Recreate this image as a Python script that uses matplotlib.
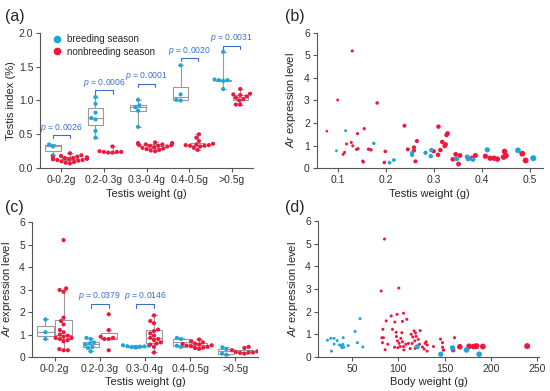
import numpy as np
import pandas as pd
import matplotlib
matplotlib.use('Agg')
import matplotlib.pyplot as plt
import seaborn as sns
from matplotlib.lines import Line2D

# ---- data ----
cats = ['0-0.2g', '0.2-0.3g', '0.3-0.4g', '0.4-0.5g', '>0.5g']
seasons = ['breeding season', 'nonbreeding season']

# (a) testis index (%)
a_breed = [
    [0.19, 0.32, 0.35],
    [0.45, 0.55, 0.72, 0.74, 0.82, 0.95, 1.05],
    [0.61, 0.85, 0.90, 0.93, 1.01],
    [1.00, 1.01, 1.09, 1.52],
    [1.17, 1.29, 1.30, 1.30, 1.31, 1.72],
]
a_non = [
    [0.22, 0.19, 0.18, 0.17, 0.16, 0.16, 0.15, 0.15, 0.14, 0.14, 0.13, 0.13,
     0.12, 0.12, 0.11, 0.10, 0.09, 0.08, 0.07, 0.14],
    [0.32, 0.25, 0.24, 0.24, 0.23, 0.23, 0.24],
    [0.38, 0.37, 0.37, 0.36, 0.35, 0.35, 0.34, 0.33, 0.33, 0.32, 0.31, 0.30,
     0.29, 0.28, 0.27, 0.26, 0.25, 0.34, 0.36],
    [0.50, 0.45, 0.40, 0.36, 0.35, 0.34, 0.34, 0.33, 0.33, 0.32, 0.30, 0.27],
    [1.17, 1.10, 1.09, 1.08, 1.06, 1.04, 1.02, 1.00, 0.94, 0.94],
]
a_p = ['0.0026', '0.0006', '0.0001', '0.0020', '0.0031']

# (c) Ar expression by testis weight class
c_breed = [
    [0.80, 1.10, 1.67],
    [0.85, 0.80, 0.65, 0.60, 0.55, 0.45, 0.40, 0.25],
    [0.42, 0.44, 0.46, 0.47, 0.48, 0.50, 0.52],
    [0.45, 0.50, 0.80, 0.85],
    [0.10, 0.15, 0.35, 0.43],
]
c_non = [
    [5.20, 3.05, 2.98, 2.90, 1.75, 1.60, 1.45, 1.20, 1.10, 1.00, 0.95, 0.90,
     0.85, 0.85, 0.80, 0.75, 0.70, 0.35, 0.30, 0.30],
    [0.30, 0.80, 0.80, 0.85, 0.90, 1.20, 1.90],
    [1.85, 1.60, 1.50, 1.22, 1.15, 1.05, 0.95, 0.85, 0.80, 0.75, 0.65, 0.60,
     0.55, 0.45, 0.20],
    [0.78, 0.70, 0.65, 0.60, 0.58, 0.55, 0.52, 0.50, 0.48, 0.45, 0.42, 0.40, 0.36],
    [0.45, 0.40, 0.30, 0.25, 0.22, 0.20, 0.20, 0.18, 0.15],
]
c_p = {1: '0.0379', 2: '0.0146'}

# (b) testis weight vs Ar
b_breed_w = [0.096, 0.115, 0.174, 0.207, 0.216, 0.254, 0.254, 0.282, 0.293, 0.294,
             0.347, 0.369, 0.371, 0.381, 0.411, 0.475, 0.507]
b_breed_ar = [0.77, 1.66, 1.10, 0.24, 0.36, 0.68, 0.58, 0.68, 0.53, 0.80,
              0.41, 0.50, 0.41, 0.39, 0.81, 0.79, 0.44]
b_non_w = [0.076, 0.0985, 0.129, 0.110, 0.113, 0.117, 0.127, 0.130, 0.138, 0.141,
           0.140, 0.154, 0.151, 0.152, 0.163, 0.168, 0.181, 0.198, 0.196, 0.238,
           0.245, 0.258, 0.258, 0.261, 0.264, 0.299, 0.308, 0.309, 0.313, 0.317,
           0.322, 0.324, 0.326, 0.328, 0.339, 0.345, 0.354, 0.351, 0.379, 0.386,
           0.407, 0.417, 0.425, 0.432, 0.445, 0.447, 0.450, 0.484, 0.491]
b_non_ar = [1.64, 3.02, 5.20, 0.61, 0.70, 1.07, 1.14, 0.99, 0.83, 0.86,
            1.53, 1.75, 0.31, 0.27, 0.84, 0.81, 2.89, 0.74, 0.25, 1.88,
            0.83, 0.92, 0.78, 0.30, 1.20, 0.75, 0.59, 1.84, 0.80, 1.16,
            0.98, 1.05, 1.47, 1.54, 0.39, 0.61, 0.56, 0.18, 0.44, 0.56,
            0.53, 0.44, 0.44, 0.40, 0.49, 0.74, 0.55, 0.64, 0.34]

# (d) body weight vs Ar (testis weight sets dot size)
d_breed_bw = [23.3, 27.0, 27.6, 30.5, 30.5, 33.8, 36.3, 38.1, 38.9, 40.3, 41.0, 40.0,
              45.7, 53.2, 55.7, 58.6, 61.5, 120.3, 145.8, 158.5, 173.6, 187.3]
d_breed_ar = [0.74, 0.82, 0.26, 0.82, 0.57, 0.72, 0.53, 0.50, 0.41, 0.85, 0.44, 0.55,
              0.50, 1.13, 0.63, 1.69, 0.44, 0.45, 0.12, 0.40, 0.31, 0.12]
d_breed_tw = [0.12] * 17 + [0.38, 0.40, 0.42, 0.45, 0.45]
d_non_bw = [85.0, 81.4, 100.5, 86.8, 83.2, 82.1, 83.8, 82.8, 85.7, 88.6, 92.2, 98.6,
            105.5, 109.1, 104.4, 96.2, 93.6, 97.6, 103.7, 97.9, 102.6, 99.0, 100.8,
            104.4, 95.8, 99.4, 101.9, 105.5, 105.9, 108.0, 110.9, 112.7, 113.8, 115.6,
            117.0, 118.5, 119.2, 117.8, 114.9, 121.4, 123.5, 122.8, 118.1, 126.0,
            128.9, 130.0, 131.1, 127.9, 131.1, 137.9, 145.5, 147.7, 147.7, 149.1,
            148.5, 160.6, 159.2, 166.4, 176.5, 181.5, 184.4, 191.3, 239.2]
d_non_ar = [5.20, 2.91, 3.04, 1.59, 1.22, 0.85, 0.85, 0.63, 0.32, 0.56, 1.81, 1.88,
            1.93, 1.66, 1.57, 1.54, 1.22, 1.09, 1.07, 0.90, 0.82, 0.71, 0.60,
            0.67, 0.43, 0.41, 0.46, 0.46, 0.31, 0.56, 0.60, 0.37, 1.00, 0.88,
            1.15, 1.06, 0.91, 0.71, 0.60, 0.78, 1.16, 0.56, 0.38, 0.44,
            0.60, 0.67, 0.53, 0.35, 0.26, 0.46, 0.79, 0.63, 0.43, 0.31,
            0.30, 0.85, 0.30, 0.45, 0.47, 0.46, 0.48, 0.46, 0.48]
d_non_tw = [0.12] * 55 + [0.13, 0.30, 0.45, 0.47, 0.48, 0.48, 0.48, 0.50]

# ---- style ----
BLUE = '#1ea6dc'
RED = '#f0163c'
PBLUE = '#3a70c6'
GRAY = '#9a9a9a'
AX = '#555555'

sns.set_style('white')
plt.rcParams['font.family'] = ['Liberation Sans', 'DejaVu Sans']
plt.rcParams['mathtext.fontset'] = 'custom'
plt.rcParams['mathtext.rm'] = 'Liberation Sans'
plt.rcParams['mathtext.it'] = 'Liberation Sans:italic'

fig = plt.figure(figsize=(5.5, 3.91), dpi=100)
ax_a = fig.add_axes([0.073, 0.570, 0.387, 0.346])
ax_b = fig.add_axes([0.576, 0.570, 0.411, 0.346])
ax_c = fig.add_axes([0.058, 0.087, 0.411, 0.345])
ax_d = fig.add_axes([0.578, 0.087, 0.402, 0.348])

ar_label = r'$\it{Ar}$ expression level'


def style(ax):
    for s in ['top', 'right']:
        ax.spines[s].set_visible(False)
    for s in ['left', 'bottom']:
        ax.spines[s].set_color(AX)
        ax.spines[s].set_linewidth(0.8)
    ax.tick_params(direction='out', length=3, width=0.8, color=AX,
                   labelsize=7.5, labelcolor='#333333', pad=2,
                   left=True, bottom=True)


def box_panel(ax, breed, non, whis_map):
    rows = []
    for i, c in enumerate(cats):
        rows += [(c, seasons[0], v) for v in breed[i]]
        rows += [(c, seasons[1], v) for v in non[i]]
    df = pd.DataFrame(rows, columns=['cat', 'season', 'val'])
    off = 0.2
    for i in range(len(cats)):
        for k, grp in enumerate([breed[i], non[i]]):
            pos = i - off if k == 0 else i + off
            ax.boxplot(grp, positions=[pos], widths=0.36,
                       whis=whis_map.get((i, k), (0, 100)),
                       showfliers=False, patch_artist=True, capwidths=0.12,
                       boxprops=dict(facecolor='white', edgecolor=GRAY, lw=0.8),
                       medianprops=dict(color=GRAY, lw=0.8),
                       whiskerprops=dict(color=GRAY, lw=0.8),
                       capprops=dict(color=GRAY, lw=0.8), zorder=1)
    sns.swarmplot(data=df, x='cat', y='val', hue='season', order=cats,
                  hue_order=seasons, palette=[BLUE, RED], dodge=True,
                  size=3.0, linewidth=0, legend=False, ax=ax, zorder=3)
    ax.set_xticks(range(len(cats)))
    ax.set_xticklabels(cats)
    ax.set_xlim(-0.5, 4.5)


def p_mark(ax, i, y, tick, txt):
    ax.plot([i - 0.2, i - 0.2, i + 0.2, i + 0.2], [y - tick, y, y, y - tick],
            color=PBLUE, lw=0.8)
    ax.text(i, y + tick * 0.4, r'$\it{p}$ = ' + txt, color=PBLUE,
            fontsize=6.2, ha='center', va='bottom')


# (a)
box_panel(ax_a, a_breed, a_non, {})
style(ax_a)
ax_a.set_ylim(0, 2.0)
ax_a.set_yticks([0, 0.5, 1.0, 1.5, 2.0])
ax_a.set_yticklabels(['0.0', '0.5', '1.0', '1.5', '2.0'])
ax_a.set_ylabel('Testis index (%)', fontsize=8, labelpad=2)
ax_a.set_xlabel('Testis weight (g)', fontsize=8, labelpad=3)
for i, (y, txt) in enumerate(zip([0.49, 1.15, 1.25, 1.63, 1.81], a_p)):
    p_mark(ax_a, i, y, 0.05, txt)
handles = [Line2D([], [], marker='o', ls='', color=col, markersize=4.5)
           for col in [BLUE, RED]]
ax_a.legend(handles, seasons, loc='upper left', bbox_to_anchor=(0.0, 1.04),
            frameon=False, fontsize=7, handletextpad=0.1, labelspacing=0.25,
            borderaxespad=0.3)

# (c)
box_panel(ax_c, c_breed, c_non, {(0, 1): (0, 90), (1, 1): 1.5})
style(ax_c)
ax_c.set_ylim(0, 6)
ax_c.set_yticks(range(7))
ax_c.set_ylabel(ar_label, fontsize=8, labelpad=4)
ax_c.set_xlabel('Testis weight (g)', fontsize=8, labelpad=2)
for i, txt in c_p.items():
    p_mark(ax_c, i, 2.36, 0.2, txt)


def size_of(tw):
    return ((2.1 + 7.8 * np.asarray(tw)) * 0.72) ** 2


# (b)
ax_b.scatter(b_non_w, b_non_ar, s=size_of(b_non_w), color=RED, lw=0, zorder=3)
ax_b.scatter(b_breed_w, b_breed_ar, s=size_of(b_breed_w), color=BLUE, lw=0, zorder=3)
style(ax_b)
ax_b.set_xlim(0.055, 0.527)
ax_b.set_ylim(0, 6)
ax_b.set_yticks(range(7))
ax_b.set_xticks([0.1, 0.2, 0.3, 0.4, 0.5])
ax_b.set_xticklabels(['0.1', '0.2', '0.3', '0.4', '0.5'])
ax_b.set_ylabel(ar_label, fontsize=8, labelpad=4)
ax_b.set_xlabel('Testis weight (g)', fontsize=8, labelpad=3)

# (d)
ax_d.scatter(d_non_bw, d_non_ar, s=size_of(d_non_tw), color=RED, lw=0, zorder=3)
ax_d.scatter(d_breed_bw, d_breed_ar, s=size_of(d_breed_tw), color=BLUE, lw=0, zorder=3)
style(ax_d)
ax_d.set_xlim(13, 252)
ax_d.set_ylim(0, 6)
ax_d.set_yticks(range(7))
ax_d.set_xticks([50, 100, 150, 200, 250])
ax_d.set_ylabel(ar_label, fontsize=8, labelpad=4)
ax_d.set_xlabel('Body weight (g)', fontsize=8, labelpad=2)

for lab, x, y in [('(a)', 0.009, 0.958), ('(b)', 0.518, 0.958),
                  ('(c)', 0.009, 0.47), ('(d)', 0.518, 0.47)]:
    fig.text(x, y, lab, fontsize=11.5, ha='left', va='center')

fig.savefig('out.png', dpi=100)
